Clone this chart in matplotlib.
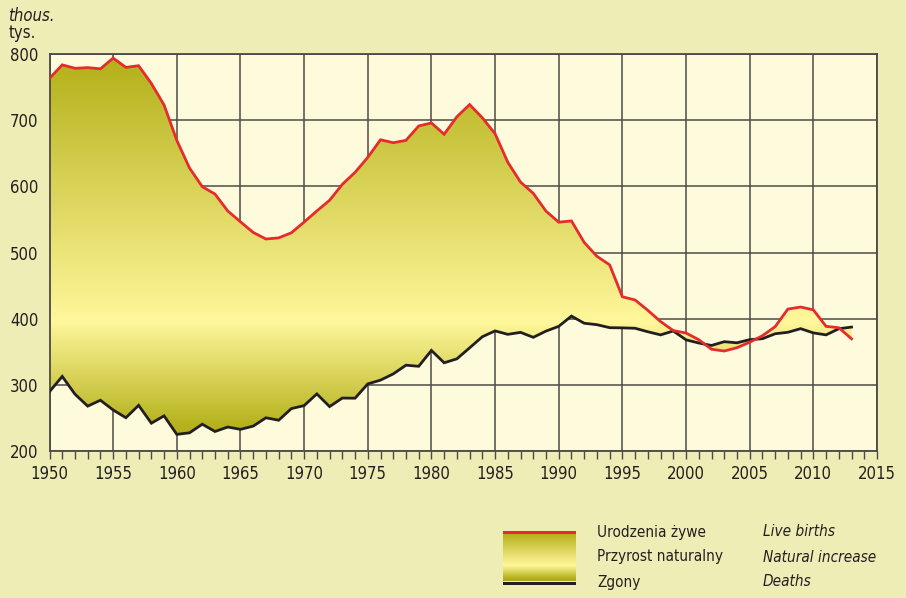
import numpy as np
import matplotlib
matplotlib.use("Agg")
import matplotlib.pyplot as plt
from matplotlib.colors import LinearSegmentedColormap
from matplotlib.ticker import MultipleLocator

plt.rcParams['font.family'] = ['DejaVu Sans']
plt.rcParams['font.stretch'] = 'condensed'

# Dane: urodzenia żywe i zgony (tys.), 1950-2013
lata = list(range(1950, 2014))
urodzenia = [763.1, 783.6, 778.4, 779.4, 777.6, 793.8, 779.8, 782.3, 755.5, 722.9,
             669.5, 627.6, 599.5, 588.3, 562.8, 546.4, 530.3, 520.4, 522.1, 529.8,
             546.0, 562.8, 578.9, 603.0, 621.1, 643.8, 670.4, 665.9, 669.5, 691.2,
             695.8, 678.7, 705.1, 723.6, 703.6, 679.5, 636.4, 606.4, 589.4, 562.5,
             545.8, 547.7, 515.2, 494.3, 481.3, 433.1, 428.2, 412.6, 395.6, 382.0,
             378.3, 368.2, 353.8, 351.1, 356.1, 364.4, 374.2, 387.9, 414.5, 417.6,
             413.3, 388.4, 386.3, 369.6]
zgony = [289.7, 312.7, 285.9, 267.8, 276.7, 262.0, 250.3, 269.0, 242.0, 253.1,
         225.1, 227.5, 240.5, 229.5, 236.2, 232.7, 237.6, 250.2, 246.5, 264.1,
         268.6, 286.3, 267.1, 280.0, 279.8, 301.4, 307.1, 316.5, 329.7, 328.0,
         352.0, 333.3, 339.3, 355.9, 372.7, 381.5, 376.3, 379.3, 371.8, 381.2,
         388.4, 403.9, 393.1, 390.9, 386.4, 386.1, 385.5, 380.2, 375.5, 381.4,
         368.0, 363.2, 359.5, 365.2, 363.5, 368.3, 369.7, 377.2, 379.4, 384.9,
         378.5, 375.5, 384.8, 387.3]

tlo = '#EDEDB5'
tlo_wykresu = '#FDFBDB'
czerwony = '#E52B2E'
czarny = '#231F20'
siatka = '#4D4A45'

# gradient: oliwkowy na krańcach, jasnożółty ok. 395 tys.
y_min, y_max = 200, 800
jasny = (395 - y_min) / (y_max - y_min)
cmap = LinearSegmentedColormap.from_list('przyrost', [
    (0.0, '#ABA712'),
    (0.06, '#B5B21C'),
    (jasny, '#FFF79B'),
    (1.0, '#B3AF17'),
])

fig = plt.figure(figsize=(9.06, 5.98), dpi=100, facecolor=tlo)
ax = fig.add_axes([49.5 / 906, 1 - 451 / 598, (877 - 49.5) / 906, (451 - 54) / 598])
ax.set_facecolor(tlo_wykresu)

ax.set_xlim(1950, 2015)
ax.set_ylim(200, 800)
ax.xaxis.set_major_locator(MultipleLocator(5))
ax.xaxis.set_minor_locator(MultipleLocator(1))
ax.yaxis.set_major_locator(MultipleLocator(100))
ax.grid(True, which='major', color=siatka, linewidth=1.1, zorder=0)
ax.set_axisbelow(True)
for s in ax.spines.values():
    s.set_color(siatka)
    s.set_linewidth(1.3)
ax.tick_params(axis='x', which='both', direction='out', length=6, width=1.0,
               color=siatka, labelsize=12, pad=4, labelcolor='#231F20')
ax.tick_params(axis='y', which='both', length=0, labelsize=12, pad=8,
               labelcolor='#231F20')

# wypełnienie gradientem
obszar = ax.fill_between(lata, urodzenia, zgony, facecolor='none',
                         edgecolor='none', zorder=2)
grad = np.linspace(0, 1, 400).reshape(-1, 1)
img = ax.imshow(grad, cmap=cmap, aspect='auto', origin='lower',
                extent=[1950, 2015, y_min, y_max], zorder=2,
                interpolation='bilinear')
img.set_clip_path(obszar.get_paths()[0], transform=ax.transData)

ax.plot(lata, zgony, color=czarny, linewidth=2.0, zorder=3,
        solid_joinstyle='miter')
ax.plot(lata, urodzenia, color=czerwony, linewidth=2.0, zorder=4,
        solid_joinstyle='miter')

fig.text(8 / 906, 1 - 16 / 598, 'thous.', fontsize=12, style='italic',
         color='#231F20', va='center')
fig.text(9 / 906, 1 - 33 / 598, 'tys.', fontsize=12, color='#231F20',
         va='center')

# legenda
lax = fig.add_axes([503 / 906, 1 - 585 / 598, 73 / 906, 54 / 598])
lax.imshow(np.linspace(0, 1, 200).reshape(-1, 1), cmap=cmap, aspect='auto',
           origin='lower', extent=[0, 1, 0.08, 0.96], interpolation='bilinear')
lax.axhspan(0.94, 1.0, color=czerwony, lw=0)
lax.axhspan(0.0, 0.06, color=czarny, lw=0)
lax.set_xlim(0, 1)
lax.set_ylim(0, 1)
lax.axis('off')

pl = ['Urodzenia żywe', 'Przyrost naturalny', 'Zgony']
en = ['Live births', 'Natural increase', 'Deaths']
wys = [532, 557, 582]
for p, e, y in zip(pl, en, wys):
    fig.text(597 / 906, 1 - y / 598, p, fontsize=11, color='#231F20',
             va='center')
    fig.text(763 / 906, 1 - y / 598, e, fontsize=11, style='italic',
             color='#231F20', va='center')

fig.savefig('out.png', dpi=100, facecolor=tlo)
